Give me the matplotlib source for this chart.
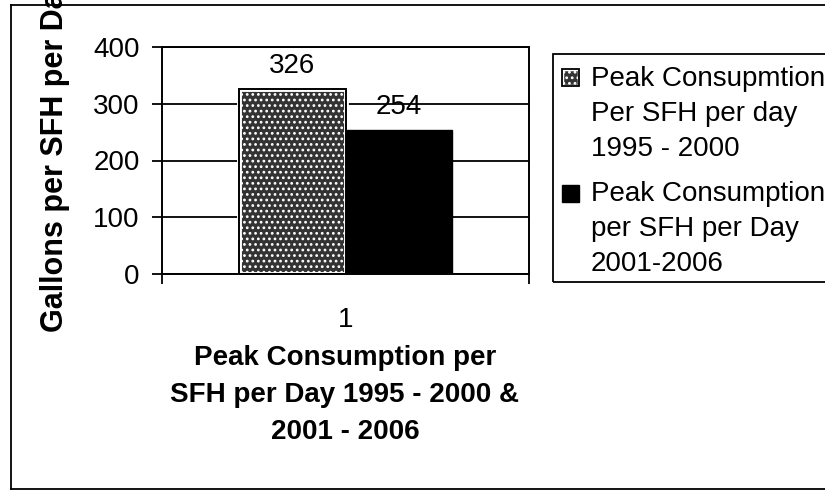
import matplotlib as mpl
import matplotlib.pyplot as plt
from matplotlib.patches import Rectangle
from matplotlib.lines import Line2D

fsize = 20
mpl.rcParams['font.family'] = ['Liberation Sans', 'DejaVu Sans']
mpl.rcParams['font.size'] = fsize
mpl.rcParams['hatch.linewidth'] = 1.2

# peak consumption, gallons per single family home per day
categories = ['1']
series_labels = ['Peak Consupmtion\nPer SFH per day\n1995 - 2000',
                 'Peak Consumption\nper SFH per Day\n2001-2006']
peak_1995_2000 = [326]
peak_2001_2006 = [254]
yticks = [0, 100, 200, 300, 400]

W, H = 825, 501


def fx(px):
    return px / W


def fy(py):
    return 1 - py / H


fig = plt.figure(figsize=(W / 100, H / 100), dpi=100)
ax = fig.add_axes([fx(162), fy(274), fx(529) - fx(162), fy(47) - fy(274)])

bw = 0.29
x = [1 + i for i in range(len(categories))]

# stippled bar: dark fill with light speckle, white inner rim, black outline
ax.bar([v - bw / 2 for v in x], peak_1995_2000, width=bw, facecolor='#333333',
       edgecolor='white', hatch='...', lw=3.5, zorder=2)
ax.bar([v - bw / 2 for v in x], peak_1995_2000, width=bw, fill=False,
       edgecolor='black', lw=1.4, zorder=3)
ax.bar([v + bw / 2 for v in x], peak_2001_2006, width=bw, color='black',
       edgecolor='black', lw=1.0, zorder=2)

for xs, vals in [([v - bw / 2 for v in x], peak_1995_2000),
                 ([v + bw / 2 for v in x], peak_2001_2006)]:
    for xv, yv in zip(xs, vals):
        ax.annotate(str(yv), (xv, yv), xytext=(0, 7), textcoords='offset points',
                    ha='center', va='bottom', fontsize=fsize, zorder=4)

ax.set_xlim(0.5, len(categories) + 0.5)
ax.set_ylim(0, 400)
ax.set_yticks(yticks)
ax.yaxis.grid(True, color='black', lw=1.3)
ax.set_axisbelow(True)
ax.tick_params(axis='y', direction='out', length=7, width=1.3, pad=9)

ax.set_xticks(x)
ax.set_xticklabels(categories)
ax.tick_params(axis='x', which='major', length=0, pad=24)
ax.set_xticks([v - 0.5 for v in x] + [x[-1] + 0.5], minor=True)
ax.tick_params(axis='x', which='minor', direction='out', length=7, width=1.3)

for s in ax.spines.values():
    s.set_linewidth(1.4)
    s.set_color('black')

# axis titles
fig.text(fx(55), fy(332), 'Gallons per SFH per Day', rotation=90, ha='center',
         va='bottom', fontsize=22, fontweight='bold')
fig.text(fx(345), fy(345), 'Peak Consumption per\nSFH per Day 1995 - 2000 &\n2001 - 2006',
         ha='center', va='top', fontsize=fsize, fontweight='bold', linespacing=1.55)

# legend box, runs off the right side
fig.patches.append(Rectangle((fx(553), fy(282)), fx(300), fy(54) - fy(282),
                             transform=fig.transFigure, fill=False,
                             edgecolor='black', lw=1.3))
hs = 17
fig.patches.append(Rectangle((fx(562), fy(69 + hs)), fx(hs), fy(0) - fy(hs),
                             transform=fig.transFigure, facecolor='#333333',
                             edgecolor='white', hatch='...', lw=2.5))
fig.patches.append(Rectangle((fx(562), fy(69 + hs)), fx(hs), fy(0) - fy(hs),
                             transform=fig.transFigure, fill=False,
                             edgecolor='black', lw=1.3))
fig.patches.append(Rectangle((fx(562), fy(185 + hs)), fx(hs), fy(0) - fy(hs),
                             transform=fig.transFigure, facecolor='black',
                             edgecolor='black', lw=1.0))
fig.text(fx(591), fy(66), series_labels[0], ha='left', va='top',
         fontsize=fsize, linespacing=1.45)
fig.text(fx(591), fy(181), series_labels[1], ha='left', va='top',
         fontsize=fsize, linespacing=1.45)

# outer chart border
for (x0, y0), (x1, y1) in [((11, 5), (11, 489)), ((11, 5), (830, 5)),
                           ((11, 489), (830, 489))]:
    fig.add_artist(Line2D([fx(x0), fx(x1)], [fy(y0), fy(y1)],
                          transform=fig.transFigure, color='black', lw=1.3))

fig.savefig('out.png', dpi=100)
